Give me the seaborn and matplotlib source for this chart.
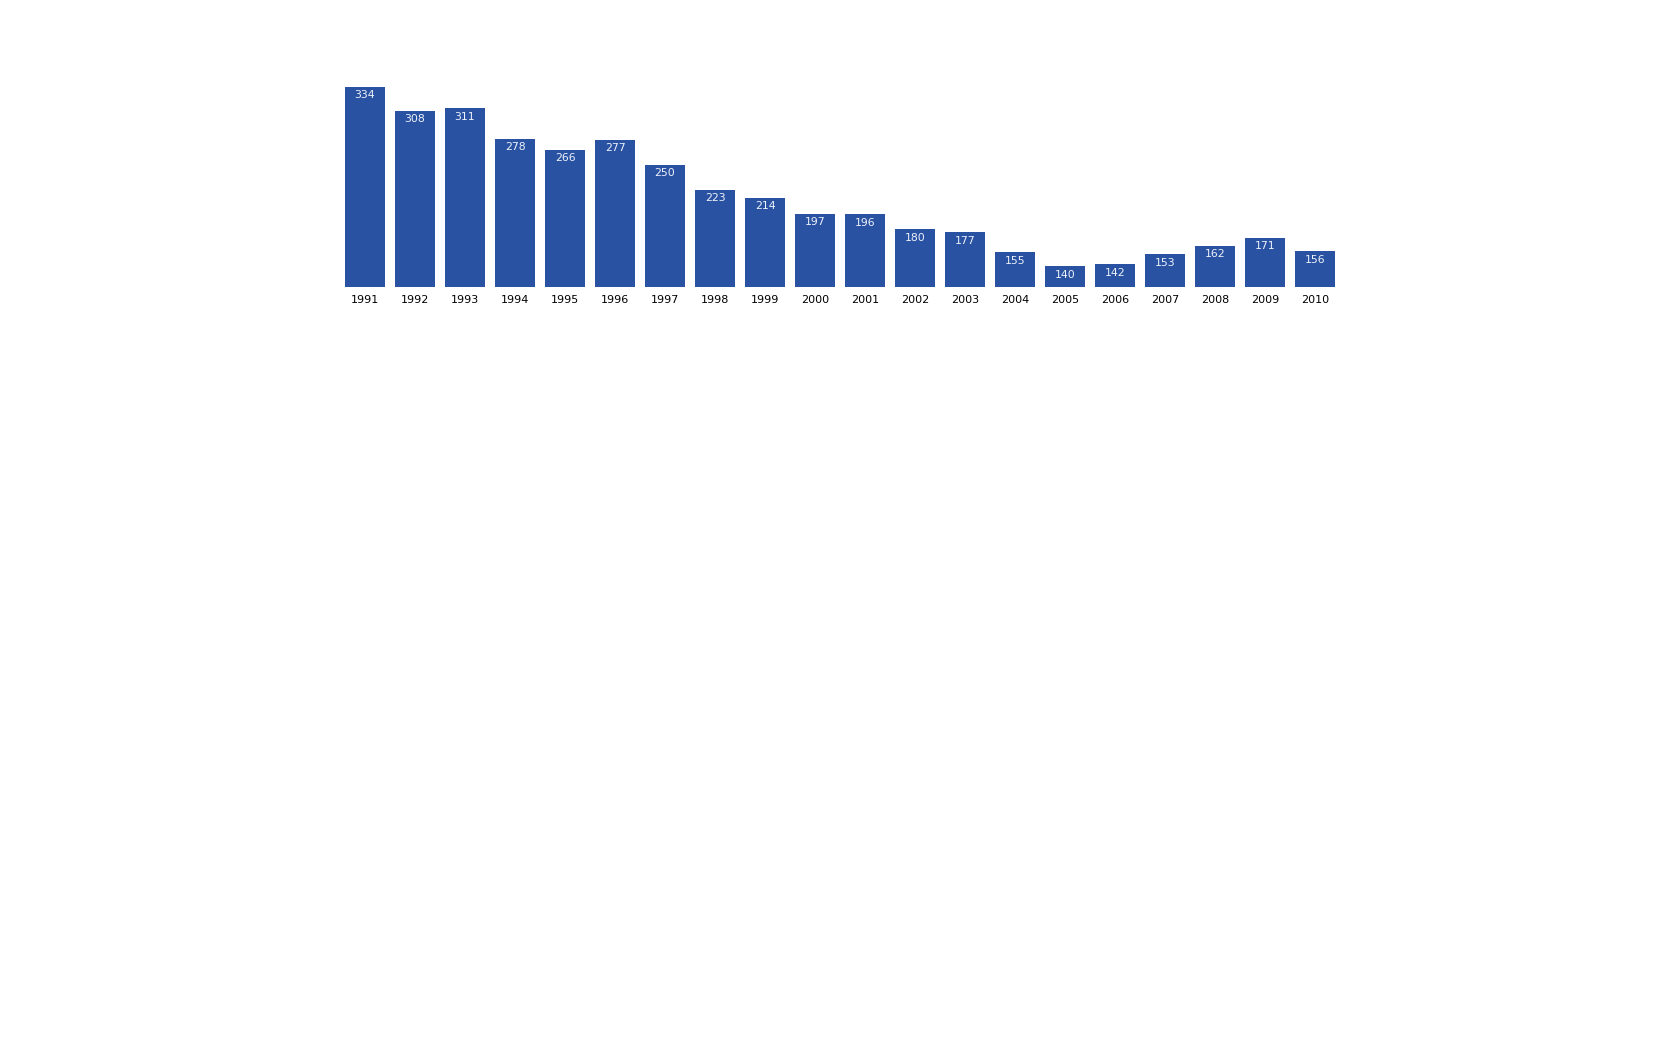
import matplotlib
matplotlib.use("Agg")
import matplotlib.pyplot as plt
import seaborn as sns
import pandas as pd

years = [str(y) for y in range(1991, 2011)]
values = [334, 308, 311, 278, 266, 277, 250, 223, 214, 197,
          196, 180, 177, 155, 140, 142, 153, 162, 171, 156]

df = pd.DataFrame({"year": years, "value": values})

sns.set_theme(style="white")
plt.rcParams['font.family'] = ['DejaVu Sans']

W, H = 1680, 1050
fig = plt.figure(figsize=(W / 100, H / 100), dpi=100)
ax = fig.add_axes([340 / W, 1 - 287 / H, 1000 / W, 200 / H])

sns.barplot(data=df, x="year", y="value", color="#2a52a2", saturation=1,
            width=0.8, linewidth=0, edgecolor="none", ax=ax)
ax.set_xlim(-0.5, len(years) - 0.5)
ax.set_ylim(117.5, 334)
for s in ax.spines.values():
    s.set_visible(False)
ax.set_yticks([])
ax.set_xlabel("")
ax.set_ylabel("")
ax.tick_params(axis="x", length=0, pad=6, labelsize=8, colors="black")

for p, v in zip(ax.patches, values):
    ax.annotate(str(v), (p.get_x() + p.get_width() / 2, p.get_height() + p.get_y()),
                xytext=(0, -2.5), textcoords="offset points",
                ha="center", va="top", color="#eef2fa", fontsize=7.8)

fig.savefig("out.png", dpi=100)
